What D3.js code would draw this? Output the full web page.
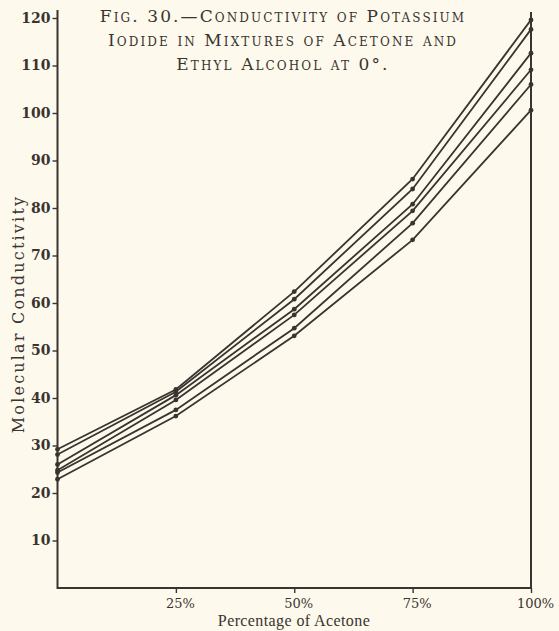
<!DOCTYPE html>
<html lang="en">
<head>
<meta charset="UTF-8">
<script src="https://d3js.org/d3.v7.min.js"></script>
<title>Fig. 30</title>
<style>
  body { margin: 0; background: #fdf9ec; }
  svg { display: block; }
  text { font-family: "DejaVu Serif", "Liberation Serif", serif; fill: #3a3430; }
</style>
</head>
<body>
<script>
// percentage of acetone
var percents = [0, 25, 50, 75, 100];
var xTickLabels = ["", "25%", "50%", "75%", "100%"];
var yTicks = [10, 20, 30, 40, 50, 60, 70, 80, 90, 100, 110, 120];

// molecular conductivity, one array per curve (top to bottom)
var curve1 = [29.2, 41.8, 62.4, 86.1, 119.6];
var curve2 = [28.1, 41.3, 60.8, 84.0, 117.6];
var curve3 = [26.0, 40.6, 58.7, 80.8, 112.6];
var curve4 = [24.8, 39.6, 57.5, 79.4, 109.1];
var curve5 = [24.3, 37.5, 54.7, 76.8, 106.0];
var curve6 = [22.9, 36.2, 53.1, 73.3, 100.6];
var curves = [curve1, curve2, curve3, curve4, curve5, curve6];

var titleLines = [
  "Fig. 30.\u2014Conductivity of Potassium",
  "Iodide in Mixtures of Acetone and",
  "Ethyl Alcohol at 0\u00b0."
];

var width = 559, height = 631;
var ink = "#3a3430";

var svg = d3.select("body").append("svg")
  .attr("width", width)
  .attr("height", height);

var x = d3.scaleLinear().domain([0, 100]).range([57.5, 531]);
var y = d3.scaleLinear().domain([0, 120]).range([588, 18]);

// frame: left axis, right edge, bottom
svg.append("path")
  .attr("d", "M" + x(0) + ",10V" + y(0) + "H" + x(100) + "V12")
  .attr("fill", "none")
  .attr("stroke", ink)
  .attr("stroke-width", 2);

var yAxis = svg.append("g")
  .attr("transform", "translate(" + x(0) + ",0)")
  .call(d3.axisLeft(y).tickValues(yTicks).tickSize(5).tickPadding(2));
yAxis.select(".domain").remove();
yAxis.selectAll("line").attr("stroke", ink).attr("stroke-width", 1.4);
yAxis.selectAll("text").style("font-size", "14px").style("font-weight", "bold")
  .attr("fill", ink);

var xAxis = svg.append("g")
  .attr("transform", "translate(0," + y(0) + ")")
  .call(d3.axisBottom(x).tickValues(percents.slice(1)).tickSize(5).tickPadding(6)
    .tickFormat(function (d, i) { return xTickLabels[i + 1]; }));
xAxis.select(".domain").remove();
xAxis.selectAll("line").attr("stroke", ink).attr("stroke-width", 1.4);
xAxis.selectAll("text").style("font-size", "13px")
  .attr("dx", 4)
  .attr("fill", ink);

var line = d3.line()
  .x(function (d, i) { return x(percents[i]); })
  .y(function (d) { return y(d); });

svg.selectAll("path.curve")
  .data(curves)
  .enter()
  .append("path")
  .attr("class", "curve")
  .attr("d", line)
  .attr("fill", "none")
  .attr("stroke", ink)
  .attr("stroke-width", 1.8);

curves.forEach(function (c) {
  svg.selectAll(null)
    .data(c)
    .enter()
    .append("circle")
    .attr("cx", function (d, i) { return x(percents[i]); })
    .attr("cy", function (d) { return y(d); })
    .attr("r", 2.4)
    .attr("fill", ink);
});

svg.append("g")
  .selectAll("text")
  .data(titleLines)
  .enter()
  .append("text")
  .attr("x", 283)
  .attr("y", function (d, i) { return 22 + i * 24; })
  .attr("text-anchor", "middle")
  .style("font-size", "17px")
  .style("font-variant", "small-caps")
  .style("letter-spacing", "2.1px")
  .text(function (d) { return d; });

svg.append("text")
  .attr("transform", "translate(24,314) rotate(-90)")
  .attr("text-anchor", "middle")
  .style("font-size", "16px")
  .style("letter-spacing", "2.2px")
  .text("Molecular Conductivity");

svg.append("text")
  .attr("x", 294)
  .attr("y", 626)
  .attr("text-anchor", "middle")
  .style("font-family", "'Liberation Serif', serif")
  .style("font-size", "16px")
  .style("letter-spacing", "0.4px")
  .text("Percentage of Acetone");
</script>
</body>
</html>
